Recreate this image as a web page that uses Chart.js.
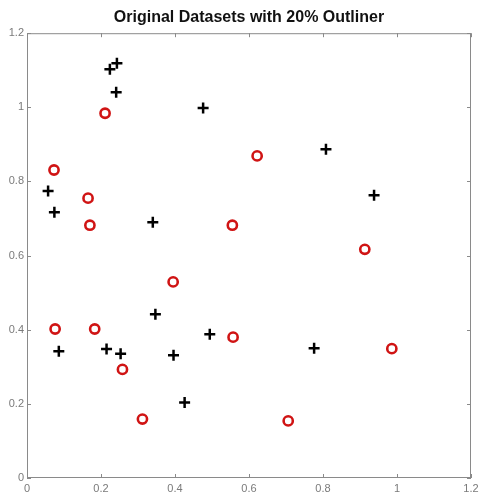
<!DOCTYPE html>
<html>
<head>
<meta charset="utf-8">
<script src="https://cdn.jsdelivr.net/npm/chart.js@4/dist/chart.umd.min.js"></script>
<style>
  html, body { margin: 0; padding: 0; background: #fff; }
  #wrap { width: 480px; height: 497px; }
</style>
</head>
<body>
<div id="wrap"><canvas id="scatter"></canvas></div>
<script>
// inliers (black plus) and outliers (red circle)
const plusX = [0.243, 0.224, 0.241, 0.476, 0.057, 0.074, 0.340, 0.086, 0.215, 0.253, 0.347, 0.396, 0.426, 0.494, 0.808, 0.938, 0.776];
const plusY = [1.119, 1.103, 1.041, 0.998, 0.774, 0.717, 0.690, 0.342, 0.348, 0.335, 0.442, 0.331, 0.204, 0.388, 0.887, 0.763, 0.350];
const circX = [0.211, 0.073, 0.165, 0.170, 0.555, 0.395, 0.076, 0.183, 0.258, 0.312, 0.557, 0.622, 0.913, 0.986, 0.706];
const circY = [0.984, 0.831, 0.755, 0.682, 0.682, 0.529, 0.402, 0.402, 0.293, 0.159, 0.380, 0.869, 0.617, 0.349, 0.154];
const tickValues = [0, 0.2, 0.4, 0.6, 0.8, 1, 1.2];
const tickLabels = ['0', '0.2', '0.4', '0.6', '0.8', '1', '1.2'];

const toPoints = (xs, ys) => xs.map((x, i) => ({ x: x, y: ys[i] }));
const labelFor = v => {
  const i = tickValues.findIndex(t => Math.abs(t - v) < 1e-6);
  return i >= 0 ? tickLabels[i] : '';
};

// matlab style box with inward ticks on all four sides
const boxTicks = {
  id: 'boxTicks',
  afterDraw(chart) {
    const { ctx, chartArea: a, scales } = chart;
    const len = 4;
    ctx.save();
    ctx.strokeStyle = '#8a8a8a';
    ctx.lineWidth = 1;
    ctx.strokeRect(a.left + 0.5, a.top + 0.5, a.right - a.left - 1, a.bottom - a.top - 1);
    ctx.beginPath();
    tickValues.forEach(v => {
      const px = Math.round(scales.x.getPixelForValue(v)) + 0.5;
      ctx.moveTo(px, a.bottom); ctx.lineTo(px, a.bottom - len);
      ctx.moveTo(px, a.top); ctx.lineTo(px, a.top + len);
      const py = Math.round(scales.y.getPixelForValue(v)) + 0.5;
      ctx.moveTo(a.left, py); ctx.lineTo(a.left + len, py);
      ctx.moveTo(a.right, py); ctx.lineTo(a.right - len, py);
    });
    ctx.stroke();
    ctx.restore();
  }
};

const tickFont = { family: 'Liberation Sans, Arial, sans-serif', size: 11 };

new Chart(document.getElementById('scatter'), {
  type: 'scatter',
  data: {
    datasets: [
      {
        label: 'data',
        data: toPoints(plusX, plusY),
        pointStyle: 'cross',
        pointRadius: 5.5,
        pointHoverRadius: 5.5,
        borderColor: '#000',
        borderWidth: 2.5
      },
      {
        label: 'outliers',
        data: toPoints(circX, circY),
        pointStyle: 'circle',
        pointRadius: 4.6,
        pointHoverRadius: 4.6,
        backgroundColor: '#fff',
        borderColor: '#d01414',
        borderWidth: 2.6
      }
    ]
  },
  options: {
    responsive: true,
    maintainAspectRatio: false,
    animation: false,
    layout: { padding: { left: 0, right: 9, top: 0, bottom: 0 } },
    plugins: {
      legend: { display: false },
      tooltip: { enabled: false },
      title: {
        display: true,
        fullSize: false,
        text: 'Original Datasets with 20% Outliner',
        color: '#111',
        font: { family: 'Liberation Sans, Arial, sans-serif', size: 16, weight: 'bold', lineHeight: 1.2 },
        padding: { top: 8, bottom: 6 }
      }
    },
    scales: {
      x: {
        type: 'linear',
        min: 0,
        max: 1.2,
        afterBuildTicks: s => { s.ticks = tickValues.map(v => ({ value: v })); },
        afterFit: s => { s.height = 19; s.paddingRight = 9; s.paddingLeft = 0; },
        grid: { display: false, drawTicks: false, tickLength: 0 },
        border: { display: false },
        ticks: { color: '#7a7a7a', font: tickFont, padding: 4, maxRotation: 0, callback: v => labelFor(v) }
      },
      y: {
        type: 'linear',
        min: 0,
        max: 1.2,
        afterBuildTicks: s => { s.ticks = tickValues.map(v => ({ value: v })); },
        afterFit: s => { s.width = 27; },
        grid: { display: false, drawTicks: false, tickLength: 0 },
        border: { display: false },
        ticks: { color: '#7a7a7a', font: tickFont, padding: 3, callback: v => labelFor(v) }
      }
    }
  },
  plugins: [boxTicks]
});
</script>
</body>
</html>
